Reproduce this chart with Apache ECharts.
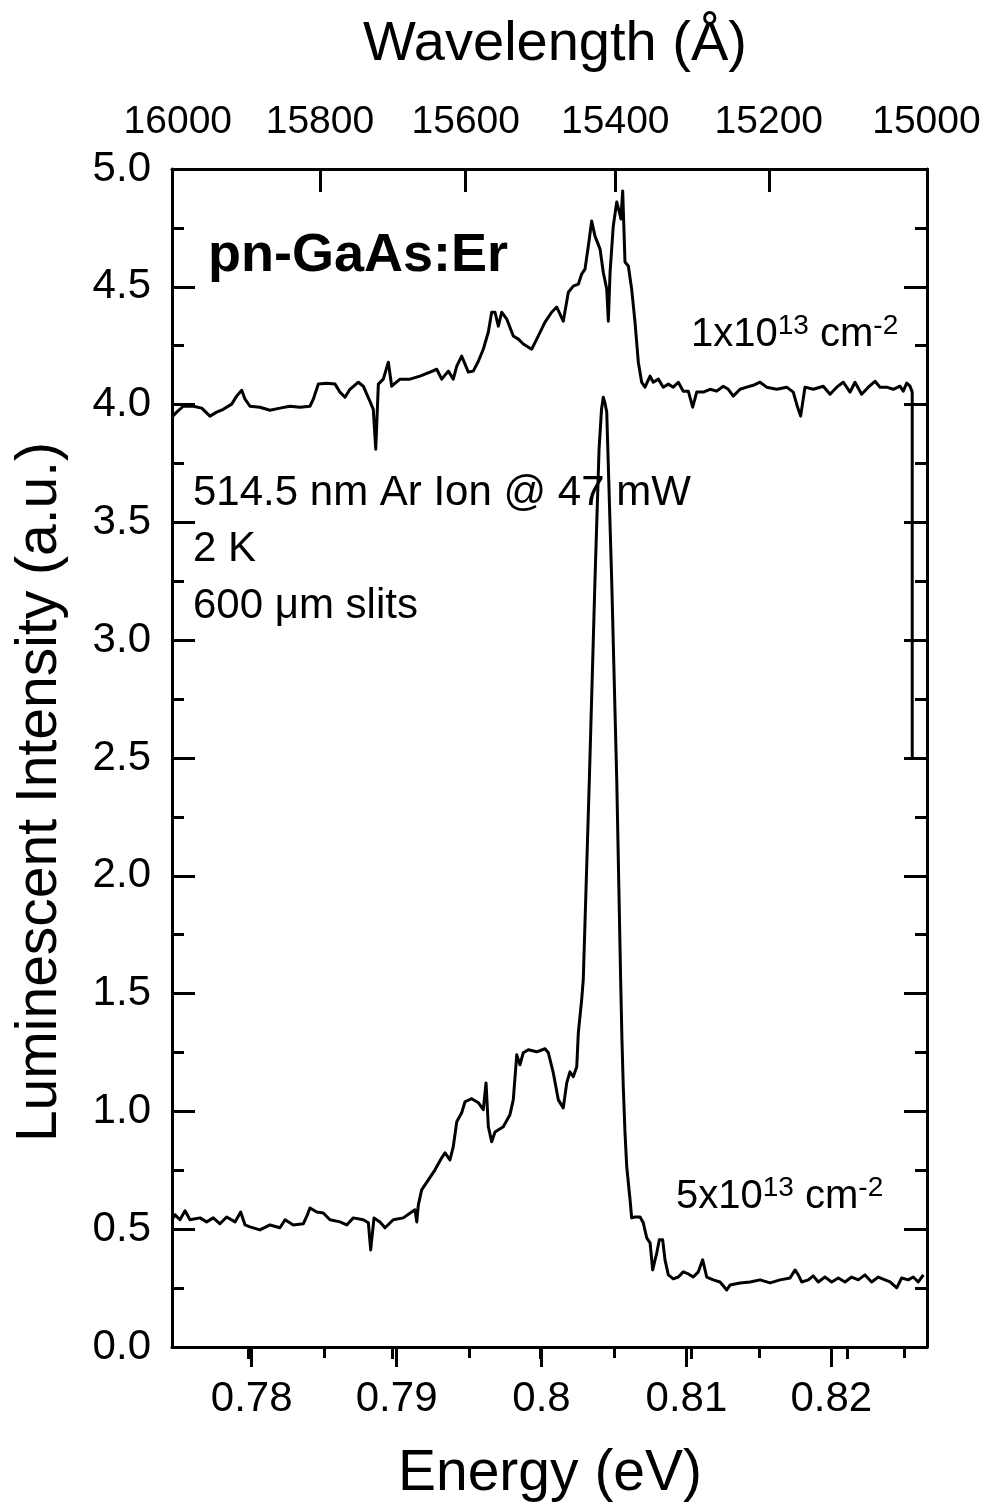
<!DOCTYPE html>
<html><head><meta charset="utf-8">
<script src="https://cdn.jsdelivr.net/npm/echarts@6/dist/echarts.min.js"></script>
<style>html,body{margin:0;padding:0;background:#fff}#c{width:991px;height:1512px}</style>
</head><body><div id="c"></div>
<script>
// ---- tick labels ----
const energyTicks = [0.78, 0.79, 0.8, 0.81, 0.82];
const energyMinorTicks = [0.785, 0.795, 0.805, 0.815, 0.825];
const wavelengthTicks = [16000, 15800, 15600, 15400, 15200, 15000];
const wavelengthMinorTicks = [15900, 15700, 15500, 15300, 15100];
const intensityTicks = [0, 0.5, 1, 1.5, 2, 2.5, 3, 3.5, 4, 4.5, 5];

// ---- upper spectrum: 1x10^13 cm^-2 (energy eV, intensity a.u.) ----
const upperE = [0.77450, 0.77482, 0.77528, 0.77597, 0.77655, 0.77712, 0.77758, 0.77804, 0.77862, 0.77896,
  0.77931, 0.77954, 0.77988, 0.78057, 0.78126, 0.78195, 0.78264, 0.78333, 0.78402, 0.78425,
  0.78460, 0.78518, 0.78575, 0.78609, 0.78644, 0.78678, 0.78736, 0.78770, 0.78816, 0.78839,
  0.78856, 0.78874, 0.78908, 0.78943, 0.78966, 0.79023, 0.79092, 0.79161, 0.79230, 0.79277,
  0.79311, 0.79357, 0.79391, 0.79415, 0.79449, 0.79495, 0.79529, 0.79564, 0.79598, 0.79633,
  0.79656, 0.79679, 0.79702, 0.79725, 0.79760, 0.79805, 0.79840, 0.79874, 0.79932, 0.79967,
  0.80024, 0.80070, 0.80105, 0.80150, 0.80185, 0.80219, 0.80254, 0.80277, 0.80300, 0.80323,
  0.80346, 0.80369, 0.80404, 0.80426, 0.80450, 0.80461, 0.80473, 0.80495, 0.80519, 0.80537,
  0.80548, 0.80560, 0.80576, 0.80599, 0.80622, 0.80645, 0.80668, 0.80691, 0.80714, 0.80749,
  0.80771, 0.80806, 0.80840, 0.80875, 0.80909, 0.80944, 0.80978, 0.81013, 0.81043, 0.81071,
  0.81116, 0.81163, 0.81209, 0.81254, 0.81289, 0.81323, 0.81370, 0.81416, 0.81461, 0.81508,
  0.81554, 0.81623, 0.81692, 0.81737, 0.81765, 0.81788, 0.81818, 0.81875, 0.81944, 0.81991,
  0.82037, 0.82082, 0.82129, 0.82163, 0.82209, 0.82255, 0.82301, 0.82336, 0.82382, 0.82427,
  0.82474, 0.82496, 0.82520, 0.82543, 0.82558, 0.82558];
const upperI = [3.947, 3.968, 3.993, 3.993, 3.985, 3.951, 3.968, 3.980, 4.002, 4.036,
  4.061, 4.023, 3.993, 3.989, 3.976, 3.985, 3.993, 3.989, 3.993, 4.023,
  4.087, 4.091, 4.087, 4.053, 4.031, 4.065, 4.095, 4.078, 4.014, 3.980,
  3.811, 4.087, 4.108, 4.180, 4.078, 4.108, 4.108, 4.121, 4.138, 4.150,
  4.108, 4.142, 4.108, 4.163, 4.206, 4.138, 4.142, 4.184, 4.235, 4.308,
  4.392, 4.392, 4.333, 4.392, 4.363, 4.291, 4.278, 4.257, 4.235, 4.278,
  4.350, 4.392, 4.414, 4.354, 4.477, 4.503, 4.511, 4.554, 4.575, 4.673,
  4.779, 4.715, 4.660, 4.562, 4.490, 4.354, 4.562, 4.758, 4.860, 4.817,
  4.788, 4.907, 4.605, 4.588, 4.490, 4.350, 4.180, 4.095, 4.074, 4.121,
  4.095, 4.108, 4.074, 4.087, 4.074, 4.095, 4.057, 4.057, 3.989, 4.053,
  4.053, 4.065, 4.057, 4.078, 4.065, 4.036, 4.065, 4.074, 4.082, 4.095,
  4.074, 4.065, 4.074, 4.053, 3.993, 3.951, 4.074, 4.065, 4.078, 4.044,
  4.074, 4.095, 4.053, 4.095, 4.044, 4.074, 4.099, 4.074, 4.074, 4.065,
  4.078, 4.057, 4.091, 4.078, 4.053, 2.5];

// ---- lower spectrum: 5x10^13 cm^-2 ----
const lowerE = [0.77450, 0.77471, 0.77505, 0.77540, 0.77574, 0.77643, 0.77689, 0.77735, 0.77781, 0.77827,
  0.77885, 0.77924, 0.77954, 0.77988, 0.78057, 0.78126, 0.78195, 0.78230, 0.78287, 0.78356,
  0.78384, 0.78402, 0.78449, 0.78494, 0.78540, 0.78609, 0.78656, 0.78701, 0.78770, 0.78805,
  0.78821, 0.78844, 0.78885, 0.78920, 0.78977, 0.79046, 0.79104, 0.79127, 0.79139, 0.79150,
  0.79173, 0.79219, 0.79265, 0.79311, 0.79334, 0.79368, 0.79391, 0.79415, 0.79449, 0.79472,
  0.79518, 0.79564, 0.79598, 0.79617, 0.79633, 0.79656, 0.79679, 0.79736, 0.79782, 0.79805,
  0.79829, 0.79851, 0.79874, 0.79909, 0.79967, 0.80024, 0.80047, 0.80081, 0.80116, 0.80150,
  0.80174, 0.80196, 0.80219, 0.80243, 0.80254, 0.80277, 0.80288, 0.80330, 0.80369, 0.80397,
  0.80414, 0.80426, 0.80438, 0.80450, 0.80484, 0.80519, 0.80546, 0.80555, 0.80564, 0.80576,
  0.80588, 0.80611, 0.80622, 0.80645, 0.80680, 0.80702, 0.80726, 0.80749, 0.80767, 0.80795,
  0.80813, 0.80836, 0.80852, 0.80875, 0.80909, 0.80944, 0.80978, 0.81013, 0.81047, 0.81082,
  0.81112, 0.81140, 0.81185, 0.81232, 0.81278, 0.81301, 0.81370, 0.81439, 0.81508, 0.81577,
  0.81646, 0.81715, 0.81749, 0.81772, 0.81795, 0.81841, 0.81875, 0.81910, 0.81956, 0.82002,
  0.82048, 0.82094, 0.82140, 0.82186, 0.82232, 0.82278, 0.82324, 0.82370, 0.82405, 0.82451,
  0.82485, 0.82531, 0.82565, 0.82600, 0.82635];
const lowerI = [0.540, 0.561, 0.540, 0.578, 0.540, 0.548, 0.531, 0.548, 0.523, 0.552,
  0.531, 0.573, 0.518, 0.510, 0.497, 0.518, 0.506, 0.540, 0.518, 0.523,
  0.561, 0.590, 0.573, 0.569, 0.540, 0.531, 0.518, 0.548, 0.540, 0.527,
  0.412, 0.548, 0.531, 0.506, 0.540, 0.548, 0.573, 0.582, 0.531, 0.603,
  0.667, 0.709, 0.752, 0.803, 0.824, 0.794, 0.850, 0.956, 0.994, 1.041,
  1.054, 1.037, 1.007, 1.121, 0.935, 0.871, 0.913, 0.935, 0.986, 1.049,
  1.240, 1.198, 1.249, 1.262, 1.253, 1.266, 1.249, 1.164, 1.049, 1.015,
  1.121, 1.168, 1.147, 1.189, 1.334, 1.474, 1.559, 2.409, 3.258, 3.811,
  3.980, 4.031, 4.006, 3.968, 3.258, 2.409, 1.559, 1.304, 1.105, 0.909,
  0.765, 0.624, 0.548, 0.552, 0.552, 0.527, 0.463, 0.442, 0.327, 0.399,
  0.455, 0.455, 0.370, 0.306, 0.289, 0.297, 0.319, 0.310, 0.297, 0.319,
  0.370, 0.297, 0.285, 0.276, 0.242, 0.263, 0.272, 0.276, 0.285, 0.272,
  0.285, 0.293, 0.327, 0.306, 0.276, 0.285, 0.302, 0.276, 0.297, 0.276,
  0.293, 0.276, 0.297, 0.285, 0.306, 0.276, 0.297, 0.285, 0.276, 0.251,
  0.293, 0.285, 0.297, 0.276, 0.306];

const HC = 12398.42; // eV*Angstrom, wavelength <-> photon energy
const X_MIN = 0.7745, X_MAX = 0.8266;
const FONT = "'Liberation Sans', Arial, Helvetica, sans-serif";
const BLACK = '#000';
const LINE = { color: BLACK, width: 3 };

const wlMajorE = wavelengthTicks.map(l => HC / l);
const wlInnerMajorE = wavelengthTicks.slice(1, -1).map(l => HC / l);
const wlMinorE = wavelengthMinorTicks.map(l => HC / l);

const chart = echarts.init(document.getElementById('c'), null, { renderer: 'canvas' });

const baseX = { type: 'value', min: X_MIN, max: X_MAX, splitLine: { show: false }, axisPointer: { show: false } };

chart.setOption({
  animation: false,
  backgroundColor: '#fff',
  grid: { left: 172, right: 64, top: 169, bottom: 165, containLabel: false },
  xAxis: [
    Object.assign({}, baseX, {
      position: 'bottom',
      axisLine: { show: true, onZero: false, lineStyle: LINE },
      axisTick: { show: true, inside: false, length: 20, lineStyle: LINE, customValues: energyTicks },
      axisLabel: { show: true, customValues: energyTicks, margin: 31, fontSize: 42, fontFamily: FONT, color: BLACK,
        formatter: v => String(v) }
    }),
    Object.assign({}, baseX, {
      position: 'bottom',
      axisLine: { show: false },
      axisTick: { show: true, inside: false, length: 11, lineStyle: LINE, customValues: energyMinorTicks },
      axisLabel: { show: false }
    }),
    Object.assign({}, baseX, {
      position: 'top',
      axisLine: { show: true, onZero: false, lineStyle: LINE },
      axisTick: { show: true, inside: true, length: 23, lineStyle: LINE, customValues: wlInnerMajorE },
      axisLabel: { show: true, customValues: wlMajorE, margin: 27, fontSize: 39, fontFamily: FONT, color: BLACK,
        formatter: v => String(Math.round(HC / v)) }
    }),
    Object.assign({}, baseX, {
      position: 'top',
      axisLine: { show: false },
      axisTick: { show: true, inside: true, length: 12, lineStyle: LINE, customValues: wlMinorE },
      axisLabel: { show: false }
    })
  ],
  yAxis: [
    {
      type: 'value', position: 'left', min: 0, max: 5, interval: 0.5,
      axisLine: { show: true, onZero: false, lineStyle: LINE },
      axisTick: { show: true, inside: true, length: 23, lineStyle: LINE },
      minorTick: { show: true, splitNumber: 2, length: 12, lineStyle: LINE },
      axisLabel: { show: true, margin: 21, fontSize: 42, fontFamily: FONT, color: BLACK, formatter: v => v.toFixed(1) },
      splitLine: { show: false }, minorSplitLine: { show: false }
    },
    {
      type: 'value', position: 'right', min: 0, max: 5, interval: 0.5,
      axisLine: { show: true, onZero: false, lineStyle: LINE },
      axisTick: { show: true, inside: true, length: 23, lineStyle: LINE },
      minorTick: { show: true, splitNumber: 2, length: 12, lineStyle: LINE },
      axisLabel: { show: false },
      splitLine: { show: false }, minorSplitLine: { show: false }
    }
  ],
  series: [
    {
      name: '1x10^13 cm^-2', type: 'line', xAxisIndex: 0, yAxisIndex: 0,
      data: upperE.map((e, i) => [e, upperI[i]]),
      showSymbol: false, symbol: 'none', smooth: false,
      lineStyle: { color: BLACK, width: 3, join: 'round' }, z: 5
    },
    {
      name: '5x10^13 cm^-2', type: 'line', xAxisIndex: 0, yAxisIndex: 0,
      data: lowerE.map((e, i) => [e, lowerI[i]]),
      showSymbol: false, symbol: 'none', smooth: false,
      lineStyle: { color: BLACK, width: 3, join: 'round' }, z: 5
    }
  ],
  graphic: [
    { type: 'text', x: 555, y: 45, style: { text: 'Wavelength (Å)', fontSize: 56, fontFamily: FONT, fill: BLACK,
        align: 'center', verticalAlign: 'middle', textAlign: 'center', textVerticalAlign: 'middle' } },
    { type: 'text', x: 550, y: 1474, style: { text: 'Energy (eV)', fontSize: 57, fontFamily: FONT, fill: BLACK,
        align: 'center', verticalAlign: 'middle', textAlign: 'center', textVerticalAlign: 'middle' } },
    { type: 'text', x: 40, y: 792, rotation: Math.PI / 2, style: { text: 'Luminescent Intensity (a.u.)', fontSize: 57, fontFamily: FONT, fill: BLACK,
        align: 'center', verticalAlign: 'middle', textAlign: 'center', textVerticalAlign: 'middle' } },
    { type: 'text', x: 208, y: 256, style: { text: 'pn-GaAs:Er', fontSize: 54, fontWeight: 'bold', fontFamily: FONT, fill: BLACK,
        align: 'left', verticalAlign: 'middle', textAlign: 'left', textVerticalAlign: 'middle' } },
    { type: 'text', x: 193, y: 493, style: { text: '514.5 nm Ar Ion @ 47 mW', fontSize: 42, fontFamily: FONT, fill: BLACK,
        align: 'left', verticalAlign: 'middle', textAlign: 'left', textVerticalAlign: 'middle' } },
    { type: 'text', x: 193, y: 549, style: { text: '2 K', fontSize: 42, fontFamily: FONT, fill: BLACK,
        align: 'left', verticalAlign: 'middle', textAlign: 'left', textVerticalAlign: 'middle' } },
    { type: 'text', x: 193, y: 606, style: { text: '600 μm slits', fontSize: 42, fontFamily: FONT, fill: BLACK,
        align: 'left', verticalAlign: 'middle', textAlign: 'left', textVerticalAlign: 'middle' } },
    { type: 'text', x: 691, y: 335, style: { text: '{n|1x10}{s|13}{n| cm}{s|-2}',
        align: 'left', verticalAlign: 'middle', textAlign: 'left', textVerticalAlign: 'middle',
        rich: {
          n: { fontSize: 40, fontFamily: FONT, fill: BLACK, lineHeight: 46, verticalAlign: 'middle' },
          s: { fontSize: 28, fontFamily: FONT, fill: BLACK, lineHeight: 32, verticalAlign: 'top' }
        } } },
    { type: 'text', x: 676, y: 1197, style: { text: '{n|5x10}{s|13}{n| cm}{s|-2}',
        align: 'left', verticalAlign: 'middle', textAlign: 'left', textVerticalAlign: 'middle',
        rich: {
          n: { fontSize: 40, fontFamily: FONT, fill: BLACK, lineHeight: 46, verticalAlign: 'middle' },
          s: { fontSize: 28, fontFamily: FONT, fill: BLACK, lineHeight: 32, verticalAlign: 'top' }
        } } }
  ]
});
</script>
</body></html>
